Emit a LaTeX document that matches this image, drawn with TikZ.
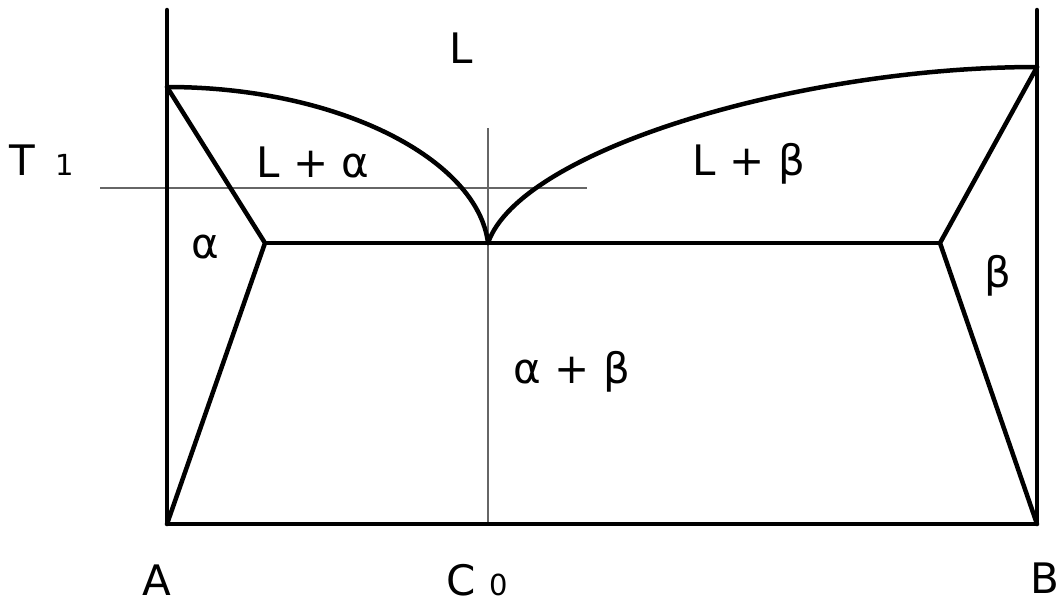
\documentclass[tikz,border=0pt]{standalone}
\usepackage{fontspec}
\setmainfont{DejaVu Sans}
\begin{document}
\begin{tikzpicture}[x=1pt,y=-1pt,
  thick line/.style={line width=4.5pt,line cap=round,line join=round,black},
  thin line/.style={line width=1.5pt,black!60},
  lab/.style={inner sep=0pt,anchor=base,font=\fontsize{42}{42}\selectfont}]
\useasboundingbox (0,0) rectangle (1061,603);
% key points
\coordinate (Atop) at (167,10);
\coordinate (Abot) at (167,524);
\coordinate (Btop) at (1037,10);
\coordinate (Bbot) at (1037,524);
\coordinate (TA) at (167,87);
\coordinate (TB) at (1037,67);
\coordinate (E) at (488,243);
\coordinate (Ea) at (265,243);
\coordinate (Eb) at (940,243);
\coordinate (T1s) at (100,188);
\coordinate (T1e) at (587,188);
\coordinate (C0t) at (488,128);
\coordinate (C0b) at (488,524);
% thin lines
\draw[thin line] (T1s) -- (T1e);
\draw[thin line] (C0t) -- (C0b);
% frame
\draw[thick line] (Atop) -- (Abot) -- (Bbot) -- (Btop);
% liquidus
\draw[thick line] (TA) .. controls (340,87) and (478,160) .. (E);
\draw[thick line] (E) .. controls (520,150) and (800,67) .. (TB);
% eutectic, solidus, solvus
\draw[thick line] (Ea) -- (Eb);
\draw[thick line] (TA) -- (Ea) -- (Abot);
\draw[thick line] (TB) -- (Eb) -- (Bbot);
% labels
\node[lab] (lL) at (461,63) {L};
\node[lab] (lT) at (42,175) {T\hspace{20pt}{\fontsize{29}{29}\selectfont 1}};
\node[lab] (lLa) at (313,177) {L + α};
\node[lab] (lLb) at (749,175) {L + β};
\node[lab] (la) at (205,258) {α};
\node[lab] (lb) at (998,287) {β};
\node[lab] (lab2) at (572,383) {α + β};
\node[lab] (lA) at (157,595) {A};
\node[lab] (lC) at (477,595) {C\hspace{14pt}{\fontsize{29}{29}\selectfont 0}};
\node[lab] (lB) at (1045,593) {B};
\end{tikzpicture}
\end{document}
